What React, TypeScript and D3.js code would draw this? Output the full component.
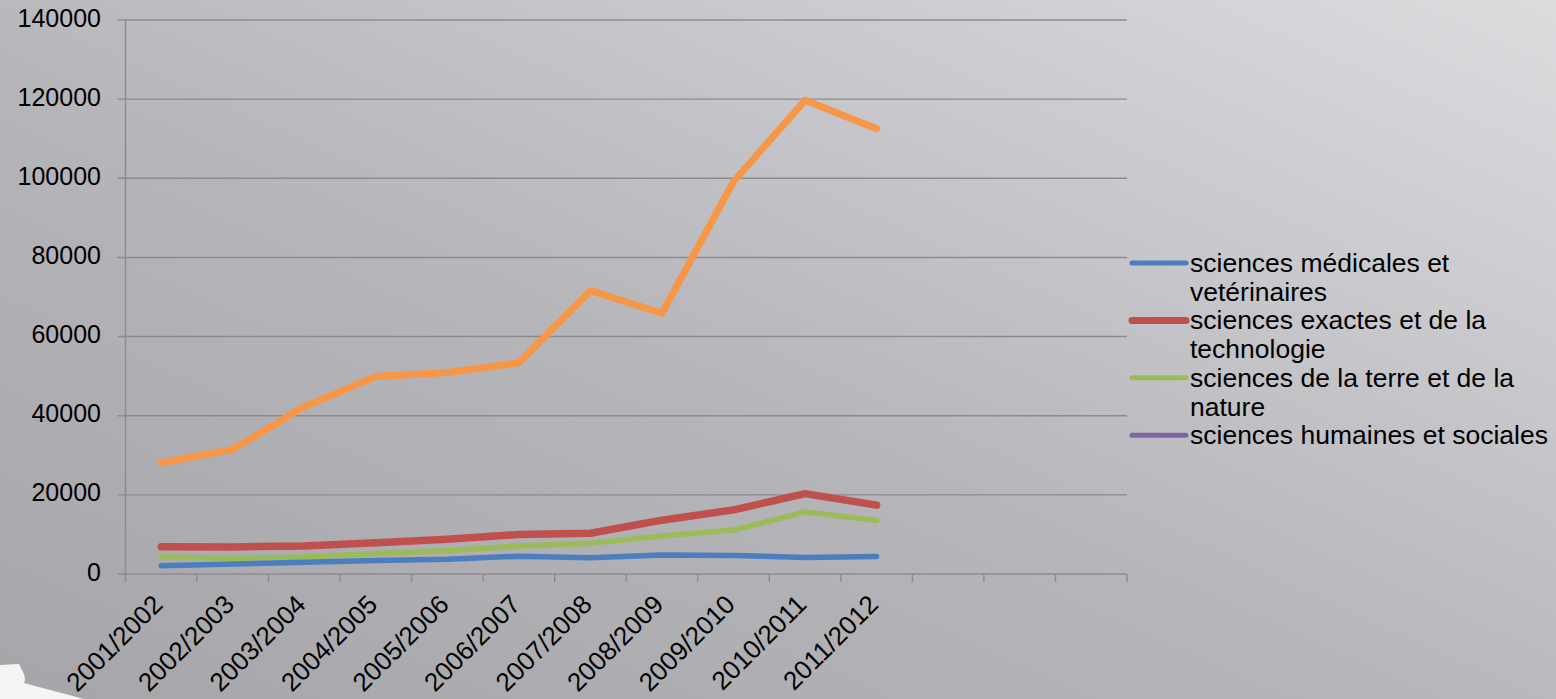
import React from "react";
import * as d3 from "d3";

const categories = [
  "2001/2002", "2002/2003", "2003/2004", "2004/2005", "2005/2006", "2006/2007",
  "2007/2008", "2008/2009", "2009/2010", "2010/2011", "2011/2012",
];
const slotCount = 14;

const medicales = [2100, 2500, 2950, 3400, 3700, 4500, 4100, 4800, 4700, 4200, 4400];
const exactes = [6900, 6850, 7100, 7900, 8800, 10000, 10300, 13600, 16200, 20300, 17400];
const terre = [4300, 4000, 4300, 5200, 5900, 7100, 7800, 9600, 11100, 15700, 13500];
const humaines: number[] = [];
const orangeSeries = [28100, 31500, 42300, 49900, 50900, 53400, 71600, 65900, 99200, 119700, 112500];

const yTicks = [0, 20000, 40000, 60000, 80000, 100000, 120000, 140000];

const legendItems = [
  { lines: ["sciences médicales et", "vetérinaires"], color: "#4a7ebf", w: 5 },
  { lines: ["sciences exactes et de la", "technologie"], color: "#c0504d", w: 7 },
  { lines: ["sciences de la terre et de la", "nature"], color: "#9bbb59", w: 5 },
  { lines: ["sciences humaines et sociales"], color: "#8064a2", w: 5 },
];

const W = 1556;
const H = 699;
const left = 125.5;
const right = 1127;
const top = 20;
const bottom = 574;
const FONT = "'Liberation Sans', Arial, sans-serif";

export default function App() {
  const x = d3.scaleBand<number>().domain(d3.range(slotCount)).range([left, right]).padding(0);
  const y = d3.scaleLinear().domain([0, 140000]).range([bottom, top]);
  const cx = (i: number) => (x(i) as number) + x.bandwidth() / 2;
  const line = d3
    .line<number>()
    .x((_, i) => cx(i))
    .y((d) => y(d));

  const series = [
    { data: orangeSeries, color: "#f79646", w: 7 },
    { data: terre, color: "#9bbb59", w: 5.5 },
    { data: medicales, color: "#4a7ebf", w: 5.5 },
    { data: exactes, color: "#c0504d", w: 7.5 },
    { data: humaines, color: "#8064a2", w: 5.5 },
  ];

  const tickXs = d3.range(slotCount + 1).map((i) =>
    i < slotCount ? (x(i) as number) : right
  );

  const legendX = 1132;
  const legendTextX = 1190;
  const legendStartY = 263;
  const lineH = 28.7;

  let rowIdx = 0;

  return (
    <svg
      width={W}
      height={H}
      style={{ position: "absolute", left: 0, top: 0, display: "block" }}
      fontFamily={FONT}
    >
      <defs>
        <linearGradient id="bg" x1="0" y1="1" x2="1" y2="0">
          <stop offset="0" stopColor="#a6a5aa" />
          <stop offset="0.45" stopColor="#b6b5ba" />
          <stop offset="1" stopColor="#dcdbde" />
        </linearGradient>
      </defs>
      <rect x={0} y={0} width={W} height={H} fill="url(#bg)" />
      <path d="M0,665 L19,664 C23,672 27,678 24,683 L84,699 L0,699 Z" fill="#f4f4f4" />

      {/* gridlines */}
      {yTicks.map((t) => (
        <line
          key={t}
          x1={left - 8}
          x2={right}
          y1={y(t)}
          y2={y(t)}
          stroke="#8c8c8e"
          strokeWidth={1.4}
        />
      ))}
      <line x1={left} x2={left} y1={top} y2={bottom} stroke="#8c8c8e" strokeWidth={1.4} />
      {tickXs.map((tx, i) => (
        <line key={i} x1={tx} x2={tx} y1={bottom} y2={bottom + 8} stroke="#8c8c8e" strokeWidth={1.4} />
      ))}

      {/* y labels */}
      {yTicks.map((t) => (
        <text
          key={t}
          x={101}
          y={y(t)}
          textAnchor="end"
          dominantBaseline="middle"
          fontSize={25}
          fill="#000"
        >
          {t}
        </text>
      ))}

      {/* x labels */}
      {categories.map((c, i) => (
        <text
          key={c}
          transform={`translate(${cx(i) + 3},${bottom + 32}) rotate(-45)`}
          textAnchor="end"
          fontSize={26}
          fill="#000"
        >
          {c}
        </text>
      ))}

      {/* series */}
      {series.map((s, k) =>
        s.data.length ? (
          <path
            key={k}
            d={line(s.data) || ""}
            fill="none"
            stroke={s.color}
            strokeWidth={s.w}
            strokeLinecap="round"
            strokeLinejoin="round"
          />
        ) : null
      )}

      {/* legend */}
      {legendItems.map((it, k) => {
        const yy = legendStartY + rowIdx * lineH;
        rowIdx += it.lines.length;
        return (
          <g key={k}>
            <line
              x1={legendX}
              x2={legendX + 54}
              y1={yy}
              y2={yy}
              stroke={it.color}
              strokeWidth={it.w}
              strokeLinecap="round"
            />
            {it.lines.map((ln, j) => (
              <text key={j} x={legendTextX} y={yy + 9 + j * lineH} fontSize={26.5} fill="#000">
                {ln}
              </text>
            ))}
          </g>
        );
      })}
    </svg>
  );
}
